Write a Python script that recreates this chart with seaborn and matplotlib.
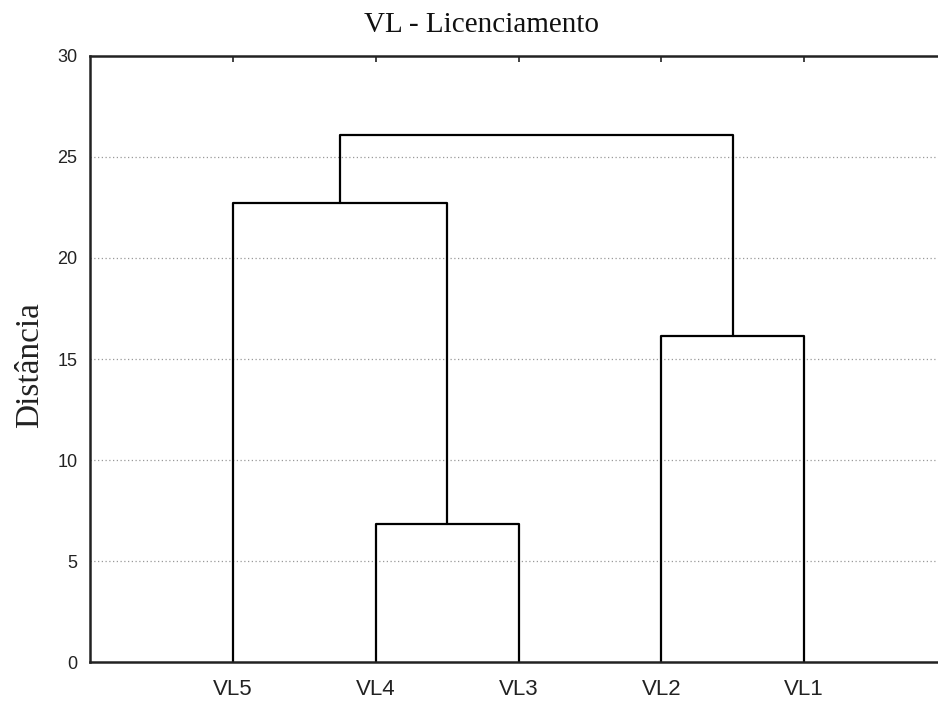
import matplotlib
matplotlib.use("Agg")
import matplotlib.pyplot as plt
import seaborn as sns
import pandas as pd
from matplotlib.ticker import MultipleLocator

# ---- data ----
leaves = ["VL5", "VL4", "VL3", "VL2", "VL1"]
merge_left = ["VL4", "VL2", "VL5", "C3"]
merge_right = ["VL3", "VL1", "C1", "C2"]
merge_height = [6.84, 16.12, 22.70, 26.06]
merge_name = ["C1", "C2", "C3", "C4"]
title = "VL - Licenciamento"
ylabel = "Distância"
yticks = [0, 5, 10, 15, 20, 25, 30]

# ---- build dendrogram segments from the merge table ----
pos = {name: (i + 1, 0.0) for i, name in enumerate(leaves)}
rows = []
for k, (a, b, h, c) in enumerate(zip(merge_left, merge_right, merge_height, merge_name)):
    xa, ha = pos[a]
    xb, hb = pos[b]
    for j, (xx, yy) in enumerate([(xa, ha), (xa, h), (xb, h), (xb, hb)]):
        rows.append({"seg": k, "order": j, "x": xx, "y": yy})
    pos[c] = ((xa + xb) / 2.0, h)
df = pd.DataFrame(rows)

sns.set_style("white")
plt.rcParams["font.family"] = ["Liberation Sans", "DejaVu Sans"]

fig = plt.figure(figsize=(9.38, 7.02), dpi=100)
ax = fig.add_axes([90 / 938, 39.7 / 702, 857 / 938, 606.6 / 702])

sns.lineplot(data=df, x="x", y="y", units="seg", estimator=None, sort=False,
             color="black", linewidth=1.6, ax=ax, legend=False)

ax.set_xlim(0, 6)
ax.set_ylim(0, 30)
ax.set_xticks(range(1, len(leaves) + 1))
ax.set_xticklabels(leaves, fontsize=16, color="#222222")
ax.set_yticks(yticks)
ax.set_yticklabels([str(v) for v in yticks], fontsize=13, color="#222222")
ax.yaxis.set_minor_locator(MultipleLocator(1))

ax.tick_params(axis="y", which="both", direction="in", length=4, width=1.2,
               color="#222222", pad=9, right=False)
ax.tick_params(axis="x", which="both", direction="in", length=4, width=1.2,
               color="#222222", pad=12, top=True, labeltop=False, bottom=False)

for v in yticks[1:-1]:
    ax.axhline(v, color="#999999", linestyle=(0, (1, 2)), linewidth=0.9, zorder=0)

for s in ax.spines.values():
    s.set_linewidth(1.8)
    s.set_color("#222222")
    s.set_visible(True)

ax.set_xlabel("")
ax.set_ylabel(ylabel, fontsize=24, family=["Liberation Serif", "DejaVu Serif"],
              color="#222222")
ax.yaxis.set_label_coords(-0.053, 0.49)
fig.text(481 / 938, 1 - 32 / 702, title, fontsize=21, ha="center", va="baseline",
         family=["Liberation Serif", "DejaVu Serif"], color="#111111")

fig.savefig("out.png", dpi=100)
